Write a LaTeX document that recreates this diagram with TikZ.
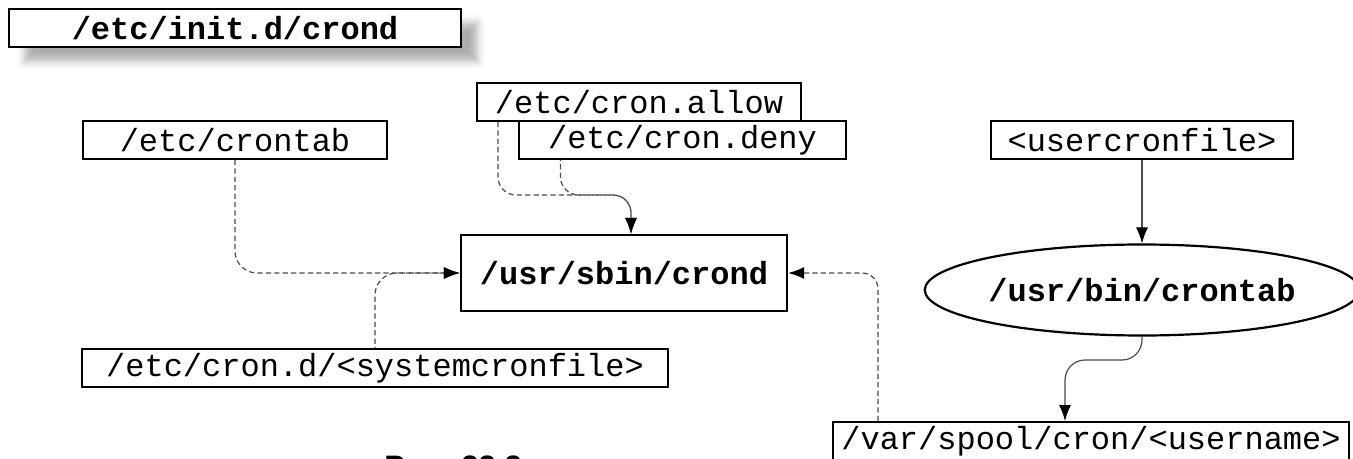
\documentclass[tikz,border=0pt]{standalone}
\usepackage{fontspec}
\setmainfont{Liberation Sans}
\setmonofont{Liberation Mono}
\usetikzlibrary{arrows.meta,positioning,shapes.geometric,shadows.blur}

\begin{document}
\begin{tikzpicture}[x=0.5pt,y=-0.5pt,
  >={Latex[length=8pt,width=6pt,color=black]},
  file/.style={draw,line width=1pt,fill=white,inner sep=0pt,minimum height=19pt,
    font=\ttfamily\fontsize{16}{18}\selectfont},
  prog/.style={file,font=\ttfamily\bfseries\fontsize{16}{18}\selectfont},
  link/.style={->,draw=black!70,line width=0.6pt},
  cfg/.style={link,dash pattern=on 2.6pt off 1.6pt,rounded corners=11pt}]
\useasboundingbox (0,0) rectangle (1353,459);
% start script
\node[prog,minimum width=226pt,
  blur shadow={shadow xshift=8pt,shadow yshift=-7pt,shadow blur radius=4pt,shadow opacity=32}]
  (initd) at (235,28) {/etc/init.d/crond};
% config files and daemon
\node[file,minimum width=152pt] (crontab) at (235,140) {/etc/crontab};
\node[file,minimum width=162pt] (allow) at (639,102) {/etc/cron.allow};
\node[file,minimum width=163.5pt] (deny) at (682.5,140) {/etc/cron.deny};
\node[prog,minimum width=163pt,minimum height=38pt,line width=1.2pt] (crond) at (624,273) {/usr/sbin/crond};
\node[file,minimum width=293pt] (sysc) at (375,368) {/etc/cron.d/<systemcronfile>};
% user side
\node[file,minimum width=151pt] (ucf) at (1142,140) {<usercronfile>};
\node[prog,ellipse,line width=1.1pt,minimum width=170pt,minimum height=45.5pt] (ctab) at (1142,290) {/usr/bin/crontab};
\node[file,minimum width=258pt] (vsp) at (1091,441) {/var/spool/cron/<username>};
\node[anchor=north west,inner sep=0pt,font=\bfseries\fontsize{15.5}{18}\selectfont]
  (caption) at (384,455) {Рис. 22.2};
% arrows
\coordinate (ad) at (631,195);
\draw[cfg,rounded corners=9pt] ([xshift=-70.5pt]allow.south) |- (ad) -- (ad |- crond.north);
\draw[cfg,rounded corners=9pt,dash phase=2.1pt] ([xshift=-61pt]deny.south) |- (ad) -- (ad |- crond.north);
\draw[cfg] (crontab) |- (crond);
\draw[cfg,dash phase=2.1pt] (sysc) |- (crond);
\draw[cfg,rounded corners=8pt] ([xshift=-106.5pt]vsp.north) |- (crond);
\draw[link] (ucf) -- (ctab);
\draw[link,rounded corners=10pt] (ctab) |- (1065,360) -- ([xshift=-13pt]vsp.north);
\end{tikzpicture}
\end{document}
